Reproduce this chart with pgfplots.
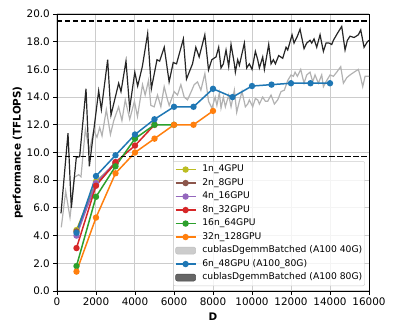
\documentclass[border=0pt]{standalone}
\usepackage{fontspec}
\setmainfont{DejaVu Sans}
\usepackage{pgfplots}
\pgfplotsset{compat=1.18}
\usepackage{pgfplotstable}

\definecolor{tabblue}{HTML}{1F77B4}
\definecolor{taborange}{HTML}{FF7F0E}
\definecolor{tabgreen}{HTML}{2CA02C}
\definecolor{tabred}{HTML}{D62728}
\definecolor{tabpurple}{HTML}{9467BD}
\definecolor{tabbrown}{HTML}{8C564B}
\definecolor{tabolive}{HTML}{BCBD22}

\pgfplotsset{
    mylinelegend/.style={legend image code/.code={\draw[mark repeat=2,mark phase=2,##1]
        plot coordinates {(0pt,0pt) (10pt,0pt) (20pt,0pt)};}},
    mypatchlegend/.style={legend image code/.code={\draw[##1] (0pt,-3.5pt) rectangle (20pt,3.5pt);}},
}

% cublasDgemmBatched, A100 40G
\pgfplotstableread{
D v
220 4.6
446 7.2
667 5.3
887 8.2
1110 8.4
1230 8.25
1455 11.7
1660 10.1
1880 11.6
2050 11.1
2190 11.8
2310 11.2
2530 13.1
2740 11.3
2910 12.3
3160 13.3
3330 12.3
3500 13.8
3730 12.4
3970 13.7
4128 12.6
4385 14.9
4522 14.15
4693 15.2
4813 13.4
4984 13.3
5155 14.15
5326 13.3
5497 14.75
5668 13.8
5753 13.4
6010 14.4
6180 14.15
6352 14.9
6523 14.0
6694 13.8
6916 14.5
7036 14.9
7207 15.1
7378 14.5
7583 15.7
7771 13.7
7942 13.2
8113 14.0
8200 13.4
8326 14.3
8411 13.2
8531 14.0
8634 13.3
8805 14.15
8925 13.3
9096 14.5
9215 12.9
9352 13.7
9489 14.4
9660 13.3
9780 13.5
9865 13.8
10036 13.3
10173 13.9
10293 13.8
10378 13.5
10549 14.0
10686 13.7
10806 13.7
10977 14.15
11148 13.5
11319 13.8
11490 14.4
11660 14.5
11832 15.2
12003 15.6
12122 15.5
12208 15.8
12327 15.5
12498 16.0
12669 15.0
12806 15.6
12977 15.8
13114 15.1
13233 15.6
13405 15.0
13575 15.6
13661 14.75
13832 15.2
14003 15.6
14174 15.5
14345 15.8
14550 16.2
14687 15.0
14858 15.4
15028 15.6
15234 15.8
15456 16.0
15576 15.4
15678 14.75
15798 15.5
16000 15.5
}\cublasforty

% cublasDgemmBatched, A100 80G
\pgfplotstableread{
D v
205 5.6
564 11.4
735 6.0
991 9.65
1162 9.7
1487 14.6
1658 9.0
2137 14.45
2274 13.1
2598 16.7
2769 12.7
3162 15.0
3282 14.4
3538 16.6
3726 13.2
3990 15.8
4137 14.8
4376 16.2
4650 18.6
4838 14.6
5128 16.7
5265 16.6
5500 17.6
5750 15.1
5960 16.5
6130 16.4
6480 18.2
6640 15.3
6950 16.4
7120 17.6
7290 16.9
7580 18.5
7770 15.96
7940 16.7
8155 16.9
8292 17.6
8411 16.1
8531 16.4
8668 17.4
8805 16.2
8925 17.8
9096 16.4
9147 15.8
9267 16.7
9352 16.3
9609 17.9
9728 16.1
9865 16.4
10002 16.0
10173 17.3
10293 16.7
10378 16.1
10549 16.9
10635 16.0
10857 17.8
10977 16.4
11097 16.7
11199 16.4
11370 17.0
11575 16.8
11746 17.6
11832 17.4
12054 18.5
12156 17.9
12327 18.4
12464 18.9
12669 17.5
12806 17.9
12977 18.1
13062 17.9
13182 18.2
13319 17.6
13490 18.5
13661 17.3
13798 17.9
13952 17.9
14088 17.8
14174 18.1
14379 18.6
14601 19.1
14772 17.4
14892 18.1
15028 18.4
15234 18.3
15456 18.5
15576 18.85
15747 17.6
15918 18.0
16000 18.1
}\cublaseighty

\begin{document}
\begin{tikzpicture}
\begin{axis}[
    scale only axis,
    width=312pt, height=277pt,
    xmin=0, xmax=16000, ymin=0, ymax=20,
    xtick={0,2000,...,16000},
    ytick={0,2,...,20},
    scaled x ticks=false,
    tick pos=left,
    tick align=outside,
    major tick length=3.6pt,
    axis line style={line width=0.8pt},
    every tick/.style={black, line width=0.8pt},
    grid=major,
    major grid style={black!20, line width=1pt},
    font=\fontsize{10.4}{12.5}\selectfont,
    /pgf/number format/assume math mode=true,
    x tick label style={/pgf/number format/.cd, fixed, precision=0, 1000 sep={}},
    y tick label style={/pgf/number format/.cd, fixed, fixed zerofill, precision=1},
    xlabel={\textbf{D}},
    ylabel={\textbf{performance (TFLOPS)}},
    ylabel style={yshift=-3pt},
    every axis plot/.append style={line width=1.5pt, mark size=2.4pt},
    mylinelegend,
    legend image post style={fill opacity=1, draw opacity=1},
    legend cell align=left,
    legend style={
        at={(0.987,0.018)}, anchor=south east,
        font=\fontsize{9.2}{11}\selectfont,
        draw=black!20, fill=white, fill opacity=0.8, text opacity=1,
        rounded corners=2pt, inner sep=1.5pt,
        column sep=5pt,
        nodes={inner sep=1pt, text height=8pt, text depth=3.5pt},
    },
]
\addplot[forget plot, black!30, line width=1.2pt, mark=none] table[x=D, y=v] {\cublasforty};
\addplot[forget plot, black!85, line width=1.2pt, mark=none] table[x=D, y=v] {\cublaseighty};

\addplot[tabolive, mark=*] coordinates {(1000,4.4) (2000,7.9) (3000,9.2)};
\addlegendentry{1n\_4GPU}
\addplot[tabbrown, mark=*] coordinates {(1000,4.3) (2000,7.7) (3000,9.2)};
\addlegendentry{2n\_8GPU}
\addplot[tabpurple, mark=*] coordinates {(1000,4.0) (2000,7.8) (3000,9.3)};
\addlegendentry{4n\_16GPU}
\addplot[tabred, mark=*] coordinates {(1000,3.1) (2000,7.6) (3000,9.3) (4000,10.5) (5000,12.0)};
\addlegendentry{8n\_32GPU}
\addplot[tabgreen, mark=*] coordinates {(1000,1.8) (2000,6.8) (3000,9.0) (4000,11.0) (5000,12.0) (6000,12.0)};
\addlegendentry{16n\_64GPU}
\addplot[taborange, mark=*] coordinates {(1000,1.4) (2000,5.3) (3000,8.5) (4000,10.0) (5000,11.0) (6000,12.0) (7000,12.0) (8000,13.0)};
\addlegendentry{32n\_128GPU}
\addlegendimage{mypatchlegend, draw=black!25, fill=black!20, line width=0.5pt}
\addlegendentry{cublasDgemmBatched (A100 40G)}
\addplot[tabblue, mark=*] coordinates {(1000,4.2) (2000,8.3) (3000,9.8) (4000,11.3) (5000,12.4) (6000,13.3) (7000,13.3) (8000,14.6) (9000,14.0) (10000,14.8) (11000,14.9) (12000,15.0) (13000,15.0) (14000,15.0)};
\addlegendentry{6n\_48GPU (A100\_80G)}
\addlegendimage{mypatchlegend, draw=black!70, fill=black!60, line width=0.5pt}
\addlegendentry{cublasDgemmBatched (A100 80G)}

\addplot[forget plot, black, dash pattern=on 5.5pt off 2.5pt, mark=none] coordinates {(0,19.5) (16000,19.5)};
\addplot[forget plot, black, dash pattern=on 5.5pt off 2.5pt, mark=none] coordinates {(0,9.7) (16000,9.7)};
\end{axis}
\pgfresetboundingbox
\path[use as bounding box] (-57pt,-41pt) rectangle (342pt,291pt);
\end{tikzpicture}
\end{document}
